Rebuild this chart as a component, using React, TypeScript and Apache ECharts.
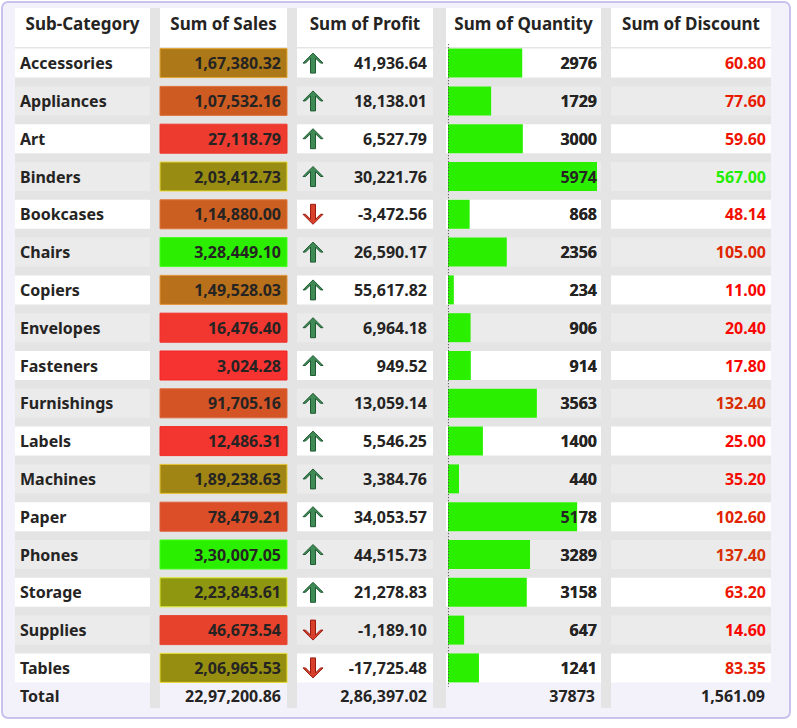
import { useEffect, useRef } from 'react';
import * as echarts from 'echarts';

const subCategories = ['Accessories', 'Appliances', 'Art', 'Binders', 'Bookcases', 'Chairs', 'Copiers', 'Envelopes', 'Fasteners', 'Furnishings', 'Labels', 'Machines', 'Paper', 'Phones', 'Storage', 'Supplies', 'Tables'];
const sales = [167380.32, 107532.16, 27118.79, 203412.73, 114880.0, 328449.1, 149528.03, 16476.4, 3024.28, 91705.16, 12486.31, 189238.63, 78479.21, 330007.05, 223843.61, 46673.54, 206965.53];
const profit = [41936.64, 18138.01, 6527.79, 30221.76, -3472.56, 26590.17, 55617.82, 6964.18, 949.52, 13059.14, 5546.25, 3384.76, 34053.57, 44515.73, 21278.83, -1189.1, -17725.48];
const quantity = [2976, 1729, 3000, 5974, 868, 2356, 234, 906, 914, 3563, 1400, 440, 5178, 3289, 3158, 647, 1241];
const discount = [60.8, 77.6, 59.6, 567.0, 48.14, 105.0, 11.0, 20.4, 17.8, 132.4, 25.0, 35.2, 102.6, 137.4, 63.2, 14.6, 83.35];
const headers = ['Sub-Category', 'Sum of Sales', 'Sum of Profit', 'Sum of Quantity', 'Sum of Discount'];
const totals = ['Total', '22,97,200.86', '2,86,397.02', '37873', '1,561.09'];

const COLS = [[15, 150], [160, 287], [297, 433], [446, 601], [611, 771]];
const TOP = 44.2;
const ROW_H = 37.8;
const FONT = '"Noto Sans", sans-serif';
const INK = '#252423';

function fmtIndian(v: number) {
  const neg = v < 0;
  const [i, d] = Math.abs(v).toFixed(2).split('.');
  let out = i;
  if (i.length > 3) {
    const head = i.slice(0, -3);
    out = head.replace(/\B(?=(\d{2})+(?!\d))/g, ',') + ',' + i.slice(-3);
  }
  return (neg ? '-' : '') + out + '.' + d;
}

const salesColors = ['#f83232', '#e0482a', '#c4661e', '#9a8a12', '#7ea80e', '#2af000'];
const discColors = ['#ff0000', '#c84000', '#8c9a00', '#22ee00'];

export default function App() {
  const ref = useRef<HTMLDivElement>(null);
  useEffect(() => {
    document.body.style.margin = '0';
    if (!ref.current) return;
    const chart = echarts.init(ref.current, null, { renderer: 'svg' });
    const maxSales = Math.max(...sales);
    const maxDisc = Math.max(...discount);

    const bg: any[] = [
      { type: 'rect', shape: { x: 2, y: 2, width: 788, height: 716, r: 6 }, style: { fill: '#f3f2fb', stroke: '#c9c2ea', lineWidth: 2 } },
      { type: 'rect', shape: { x: 15, y: 8, width: 756, height: 700 }, style: { fill: '#e4e4e4' } },
    ];
    COLS.forEach(([a, b], i) => {
      bg.push({ type: 'rect', shape: { x: a, y: 8, width: b - a, height: 39 }, style: { fill: '#ffffff' } });
      bg.push({ type: 'text', x: (a + b) / 2, y: 23, style: { text: headers[i], font: `bold 17px ${FONT}`, fill: INK, align: 'center', verticalAlign: 'middle' } });
      bg.push({ type: 'rect', shape: { x: a, y: 682, width: b - a, height: 26 }, style: { fill: '#f3f2fb' } });
      bg.push({ type: 'text', x: i === 0 ? 20 : b - 6, y: 696, style: { text: totals[i], font: `bold 16px ${FONT}`, fill: INK, align: i === 0 ? 'left' : 'right', verticalAlign: 'middle' } });
    });
    bg.push({ type: 'rect', shape: { x: 0, y: 708, width: 797, height: 0 }, style: { fill: 'none' } });

    const arrow = (x: number, y: number, up: boolean) => {
      const s = up ? -1 : 1;
      const pts = [[0, 10], [8, 2], [4, 2], [4, -10], [-4, -10], [-4, 2], [-8, 2]].map(([px, py]) => [x + px * 1.2, y - s * -py * 1] as number[]);
      const p2 = [[0, 10], [10, 0], [7.5, 0], [2.5, 5], [2.5, -10], [-2.5, -10], [-2.5, 5], [-7.5, 0], [-10, 0]].map(([px, py]) => [x + px, y + (up ? -py : py)]);
      void pts;
      return {
        type: 'polygon', shape: { points: p2 },
        style: { fill: up ? '#3f8a55' : '#d8402c', stroke: up ? '#1f5a32' : '#9a1a10', lineWidth: 1 },
      };
    };

    chart.setOption({
      animation: false,
      graphic: { elements: bg },
      grid: [
        { left: 0, width: 797, top: TOP, height: ROW_H * 17 },
        { left: 448, width: 149, top: TOP, height: ROW_H * 17 },
      ],
      xAxis: [
        { type: 'value', gridIndex: 0, min: 0, max: 797, show: false },
        { type: 'value', gridIndex: 1, min: 0, max: Math.max(...quantity), show: false },
      ],
      yAxis: [
        { type: 'category', gridIndex: 0, data: subCategories, inverse: true, show: false },
        {
          type: 'category', gridIndex: 1, data: subCategories, inverse: true,
          axisLine: { show: false }, axisTick: { show: false }, axisLabel: { show: false },
        },
      ],
      series: [
        {
          type: 'custom', xAxisIndex: 0, yAxisIndex: 0, z: 1,
          data: subCategories.map((_, i) => i),
          renderItem: (params: any, api: any) => {
            const i = api.value(0);
            const cy = api.coord([0, i])[1];
            const band = i % 2 === 0 ? '#ffffff' : '#ebebeb';
            const top = cy - 14.5;
            const children: any[] = [];
            COLS.forEach(([a, b]) => children.push({ type: 'rect', shape: { x: a, y: top, width: b - a, height: 29 }, style: { fill: band } }));
            const txt = (t: string, x: number, align: string, fill = INK) => ({
              type: 'text', x, y: cy, style: { text: t, font: `bold 16px ${FONT}`, fill, align, verticalAlign: 'middle' },
            });
            children.push(txt(subCategories[i], 20, 'left'));
            const sc = echarts.color.lerp(sales[i] / maxSales, salesColors);
            children.push({ type: 'rect', shape: { x: 160, y: top, width: 127, height: 29 }, style: { fill: sc, stroke: echarts.color.modifyHSL(sc, null, null, 0.55), lineWidth: 1 } });
            children.push(txt(fmtIndian(sales[i]), 281, 'right'));
            children.push(arrow(313, cy, profit[i] >= 0));
            children.push(txt(fmtIndian(profit[i]), 427, 'right'));
            children.push(txt(String(quantity[i]), 597, 'right'));
            children.push(txt(fmtIndian(discount[i]), 766, 'right', echarts.color.lerp(discount[i] / maxDisc, discColors)));
            return { type: 'group', children };
          },
        },
        {
          type: 'bar', xAxisIndex: 1, yAxisIndex: 1, z: 3, barWidth: 29,
          data: quantity, itemStyle: { color: '#2af000' },
          markLine: {
            silent: true, symbol: 'none', label: { show: false },
            lineStyle: { color: '#444', type: [1, 2], width: 1 },
            data: [{ xAxis: 0 }],
          },
        },
        {
          type: 'custom', xAxisIndex: 0, yAxisIndex: 0, z: 4,
          data: subCategories.map((_, i) => i),
          renderItem: (params: any, api: any) => {
            const i = api.value(0);
            const cy = api.coord([0, i])[1];
            return { type: 'text', x: 597, y: cy, style: { text: String(quantity[i]), font: `bold 16px ${FONT}`, fill: INK, align: 'right', verticalAlign: 'middle' } };
          },
        },
      ],
    });
    return () => chart.dispose();
  }, []);
  return <div ref={ref} style={{ width: 797, height: 728 }} />;
}
